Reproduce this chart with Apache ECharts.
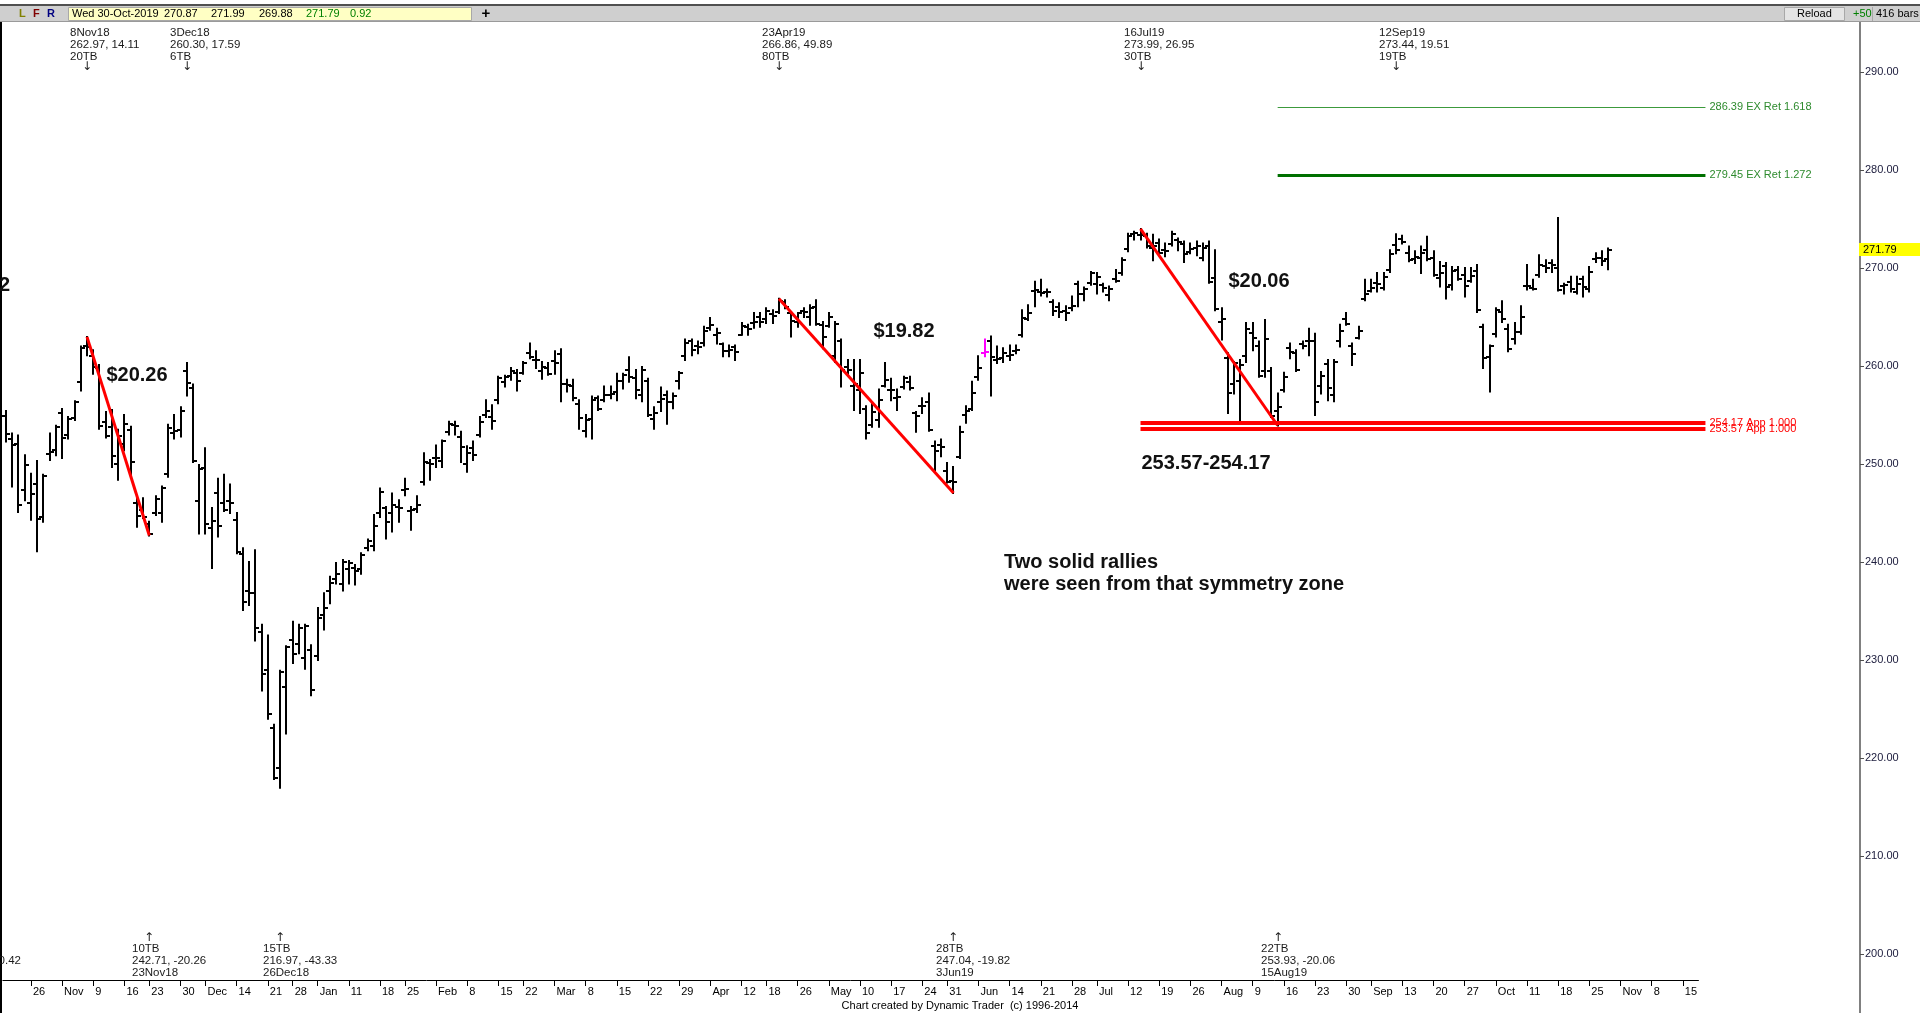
<!DOCTYPE html>
<html><head><meta charset="utf-8">
<script src="https://cdn.jsdelivr.net/npm/echarts@6/dist/echarts.min.js"></script>
<style>html,body{margin:0;padding:0;background:#fff;overflow:hidden}#c{width:1920px;height:1013px}</style>
</head><body><div id="c"></div>
<script>
// ---------- DATA ----------
const startDate = '2018-10-22';
const nCategories = 272;
const holidays = ['2018-11-22','2018-12-05','2018-12-25','2019-01-01','2019-01-21','2019-02-18','2019-04-19','2019-05-27','2019-07-04','2019-09-02','2019-11-28'];
const tickLabels = ['26','Nov','9','16','23','30','Dec','14','21','28','Jan','11','18','25','Feb','8','15','22','Mar','8','15','22','29','Apr','12','18','26','May','10','17','24','31','Jun','14','21','28','Jul','12','19','26','Aug','9','16','23','30','Sep','13','20','27','Oct','11','18','25','Nov','8','15'];
const yTickValues = [200,210,220,230,240,250,260,270,280,290];

const opens = [254.9,252.5,252.0,247.3,246.0,248.0,244.6,251.0,251.4,255.2,253.0,254.7,258.4,262.0,261.0,259.8,254.3,253.8,250.0,252.0,253.5,246.0,245.3,243.9,245.0,245.0,249.0,253.2,253.5,259.5,257.8,246.2,249.6,243.5,247.0,246.0,246.2,244.3,240.8,237.0,236.8,232.9,229.0,223.1,219.0,227.2,232.0,231.6,230.2,231.0,230.4,234.6,237.0,238.3,237.8,239.3,239.4,239.3,241.4,241.6,245.0,245.5,245.0,245.6,247.3,245.2,245.4,248.2,250.1,250.6,250.3,253.3,254.0,252.8,250.0,251.6,253.0,255.0,254.8,256.5,258.4,259.0,259.3,259.3,261.3,260.6,259.5,259.8,260.5,261.2,258.2,258.0,256.1,253.4,254.6,256.7,256.5,257.0,257.3,258.5,259.6,258.8,257.0,258.5,254.6,256.3,257.0,256.3,258.5,261.0,262.5,262.0,262.3,263.9,263.2,262.2,261.5,261.9,263.2,264.0,264.4,265.0,264.8,265.3,265.5,266.5,265.4,264.5,265.6,265.0,266.0,264.2,264.1,261.0,262.5,259.9,258.0,257.5,255.6,254.0,254.5,258.0,257.5,256.7,257.9,258.4,255.2,255.9,256.3,251.8,251.9,249.3,248.3,250.7,255.0,255.6,258.9,261.3,262.5,260.6,260.8,261.0,261.5,263.2,264.8,267.7,267.5,267.5,266.5,266.0,265.6,265.9,268.4,267.3,268.5,268.4,268.3,267.2,268.9,269.5,271.9,273.5,273.4,273.3,272.0,272.5,271.8,272.4,272.9,272.4,271.6,272.0,271.0,272.2,269.0,264.5,260.8,258.2,258.5,261.0,263.4,262.0,259.5,259.5,255.4,257.5,261.8,261.3,262.2,262.6,262.6,258.0,260.2,257.0,262.5,264.8,262.0,262.9,266.8,267.7,268.5,268.0,269.8,272.3,273.0,271.5,270.9,271.0,271.8,271.0,269.0,270.2,268.3,269.8,269.3,268.7,269.7,264.0,260.9,263.3,265.5,263.8,262.8,263.5,268.2,268.0,269.3,270.2,270.5,270.0,268.2,268.6,267.6,268.9,267.9,270.9,271.0,270.87];
const highs = [255.4,253.1,252.9,250.9,249.0,250.3,248.9,253.1,253.9,255.6,254.8,256.4,262.0,262.97,261.6,260.1,255.3,255.5,253.5,255.0,253.8,246.7,246.5,244.1,246.7,247.7,254.0,255.0,255.8,260.30,258.1,249.9,251.6,245.5,248.5,248.9,247.9,245.0,241.4,240.0,241.2,233.6,232.5,223.4,228.9,231.4,233.9,233.6,233.6,231.5,235.3,236.8,238.5,239.9,240.2,240.1,239.7,240.9,242.3,244.8,247.5,245.6,247.0,246.3,248.5,245.6,246.7,251.1,250.4,251.9,252.4,254.3,254.3,253.3,251.8,252.3,254.8,256.5,256.0,258.9,259.0,259.8,259.6,260.4,262.3,261.5,260.4,260.3,261.5,261.7,258.6,258.6,256.5,255.0,256.9,256.9,257.9,257.9,259.2,259.2,260.9,259.6,259.9,258.7,255.8,257.8,257.4,257.2,259.4,262.7,262.7,262.5,264.0,264.9,263.8,262.3,262.1,262.1,264.4,264.2,265.4,265.4,265.9,265.7,266.86,266.7,265.5,265.4,265.9,266.2,266.7,264.5,265.4,264.5,262.7,260.6,260.6,260.6,255.9,256.2,257.6,260.3,258.7,257.6,258.9,258.9,255.3,256.7,257.2,252.3,252.5,250.1,249.7,253.8,255.9,258.4,261.0,262.7,263.0,262.0,261.8,262.1,262.1,265.7,266.2,268.6,268.8,267.8,266.7,266.4,266.1,267.1,268.6,268.0,269.6,269.5,268.4,268.1,269.8,271.0,273.5,273.7,273.99,273.5,273.4,272.9,272.5,273.7,273.0,272.7,272.5,272.7,272.5,272.7,271.8,265.9,261.3,260.4,260.6,264.4,264.4,262.5,264.7,259.8,257.2,259.3,262.3,261.6,262.5,263.8,263.3,259.4,260.6,260.6,264.2,265.4,262.3,264.0,268.8,268.8,269.5,269.5,271.8,273.44,273.3,272.2,271.7,272.2,273.2,271.7,270.6,270.5,270.1,270.1,270.0,270.0,270.3,264.2,262.1,265.9,266.6,264.2,264.4,266.1,270.3,268.8,271.3,270.8,270.8,275.1,268.4,269.1,269.1,269.1,270.1,271.5,271.7,271.99];
const lows = [252.3,247.7,245.1,246.3,244.3,241.1,244.1,250.4,250.9,250.6,252.6,254.5,257.5,261.1,259.2,253.6,252.7,249.7,248.4,251.4,248.9,243.6,244.5,242.71,244.8,244.1,248.7,252.6,252.8,257.0,250.2,242.9,242.9,239.4,242.6,245.2,245.0,240.9,235.1,235.6,232.0,226.9,224.0,217.85,216.97,222.5,229.7,230.7,229.1,226.4,230.0,233.1,235.8,237.8,237.1,237.8,237.7,238.8,241.2,241.2,244.6,242.4,243.1,244.1,246.8,243.3,245.1,247.9,248.4,249.7,249.7,253.0,253.0,250.2,249.2,250.4,252.8,254.8,253.6,256.2,257.9,258.6,257.5,259.2,260.8,259.8,258.7,259.1,259.2,256.4,257.4,256.5,253.6,252.8,252.6,255.5,256.4,256.7,256.5,257.7,258.4,256.7,256.4,254.9,253.6,255.4,254.1,255.7,257.7,260.6,261.1,261.3,262.1,263.7,262.3,261.0,261.0,260.6,263.2,263.2,263.9,264.0,264.4,264.4,265.4,265.9,263.0,264.0,265.0,264.2,264.2,261.8,264.0,260.4,257.9,259.1,255.5,255.2,252.6,253.8,253.8,257.9,256.5,255.5,257.7,257.6,253.3,255.2,253.4,249.4,250.8,248.1,247.04,250.6,254.2,255.5,258.6,261.0,257.0,260.3,260.4,260.6,261.3,263.0,264.7,266.1,267.2,267.1,265.2,265.0,264.7,265.7,266.1,266.7,268.3,267.4,267.6,266.7,268.6,269.3,271.7,272.9,272.9,272.1,270.8,271.3,271.2,272.3,271.8,270.6,271.5,271.3,270.8,268.5,265.7,262.7,255.2,257.2,254.3,260.4,261.6,258.9,258.9,254.8,253.93,257.4,260.8,259.5,261.8,261.1,255.0,257.2,256.5,256.4,262.0,264.2,260.1,262.8,266.7,267.6,267.6,267.8,269.6,271.5,272.5,270.7,270.5,269.5,270.8,269.2,268.1,266.9,267.8,268.8,267.1,268.6,265.5,259.8,257.4,263.0,264.5,261.5,262.3,263.3,267.8,267.8,269.1,269.6,269.6,267.7,267.4,267.6,267.4,267.1,267.6,270.6,270.3,269.88];
const closes = [253.1,251.9,245.8,249.9,246.9,244.4,248.8,251.2,253.8,252.7,254.6,256.3,261.8,261.9,259.9,253.9,252.9,250.8,252.9,254.1,250.2,244.7,244.6,242.9,246.4,247.5,253.7,253.4,255.4,258.3,250.3,249.5,243.9,244.2,243.7,245.3,246.0,241.0,235.9,236.8,233.3,228.6,224.5,218.0,228.8,231.3,230.6,233.3,233.5,226.9,234.3,235.3,237.9,238.8,240.0,239.9,239.1,240.7,242.1,243.7,247.1,244.1,245.8,245.5,247.4,245.3,245.8,250.2,250.0,250.6,252.3,254.1,253.9,251.7,251.1,250.9,254.3,255.4,254.4,258.8,258.9,259.5,258.5,260.3,260.9,260.6,259.9,259.2,260.3,258.2,258.1,256.7,254.7,254.5,256.5,255.6,257.0,257.1,258.5,259.1,258.9,257.5,259.6,255.0,255.2,256.6,256.3,256.9,259.3,262.3,261.6,261.9,263.6,264.2,263.4,261.5,261.6,261.4,264.1,263.8,264.5,264.5,265.6,265.1,266.6,266.0,264.6,265.4,265.5,265.9,264.3,263.0,265.0,264.3,259.6,259.6,258.2,259.3,253.2,255.3,256.5,258.6,257.6,256.8,258.8,257.8,254.9,255.9,253.5,251.3,251.7,248.2,248.2,253.3,255.4,257.2,259.8,261.4,260.9,260.7,261.3,261.1,261.6,264.9,265.4,267.8,267.4,267.5,265.6,265.5,265.4,266.1,267.3,267.9,269.5,269.1,268.0,267.9,268.7,270.8,273.3,273.6,273.4,272.2,272.2,271.5,271.7,273.5,272.7,271.4,271.9,272.2,272.0,268.6,265.8,264.8,257.2,260.3,260.1,263.8,262.9,259.0,262.8,254.9,255.8,258.9,261.4,259.6,262.0,262.5,256.3,259.0,257.8,260.4,263.6,264.3,261.2,263.6,267.3,268.0,268.4,269.1,271.4,271.8,272.7,270.8,271.1,271.5,270.9,269.3,269.5,268.1,269.7,268.9,268.2,269.2,265.7,260.8,262.0,265.7,264.8,261.7,263.5,265.0,268.2,267.9,270.3,270.0,270.3,267.8,268.3,267.9,268.4,268.1,269.6,271.0,270.7,271.79];
const highlightedBars = [157];

// swing lines: [startIndex, startPrice, endIndex, endPrice]
const swingLines = [[13,262.97,23,242.71],[124,266.86,152,247.04],[182,273.99,204,253.93]];

// projection levels
const levelStart = [204,204,182,182];
const levelPrice = [286.39,279.45,254.17,253.57];
const levelText = ['286.39 EX Ret 1.618','279.45 EX Ret 1.272','254.17 App 1.000','253.57 App 1.000'];

// swing annotations
const annTopIndex = [13,29,124,182,223];
const annTopText = [['8Nov18','262.97, 14.11','20TB'],['3Dec18','260.30, 17.59','6TB'],['23Apr19','266.86, 49.89','80TB'],['16Jul19','273.99, 26.95','30TB'],['12Sep19','273.44, 19.51','19TB']];
const annBotIndex = [23,44,152,204];
const annBotText = [['10TB','242.71, -20.26','23Nov18'],['15TB','216.97, -43.33','26Dec18'],['28TB','247.04, -19.82','3Jun19'],['22TB','253.93, -20.06','15Aug19']];

const lastBar = {date:'Wed 30-Oct-2019', o:'270.87', h:'271.99', l:'269.88', c:'271.79', chg:'0.92'};

// ---------- BUILD ----------
function buildDates(){
  const out=[]; let t=Date.parse(startDate+'T00:00:00Z');
  while(out.length<nCategories){
    const d=new Date(t); const dow=d.getUTCDay(); const s=d.toISOString().slice(0,10);
    if(dow!==0&&dow!==6&&holidays.indexOf(s)<0) out.push(s);
    t+=86400000;
  }
  return out;
}
const dates = buildDates();
const weekEndLabel = {};
(function(){
  let k=0;
  for(let i=0;i<dates.length-1;i++){
    const a=new Date(dates[i]+'T00:00:00Z').getUTCDay();
    const b=new Date(dates[i+1]+'T00:00:00Z').getUTCDay();
    if(b<a && k<tickLabels.length){ weekEndLabel[i]=tickLabels[k++]; }
  }
})();
const isWeekEnd = (i)=> weekEndLabel.hasOwnProperty(i);

const ohlc = opens.map((o,i)=>[i,o,highs[i],lows[i],closes[i]]);

const FONT = '"Liberation Sans", Arial, sans-serif';
const Y_AXIS_X = 1860;

const GRID_LEFT = 2.84, GRID_W = 1695.6, GRID_TOP = 22, GRID_H = 958;
const Y_MIN = 290 - (GRID_TOP+GRID_H-72)/9.8;
const Y_MAX = 290 + (72-GRID_TOP)/9.8;

function renderBar(params, api){
  const i=api.value(0);
  const x=Math.round(api.coord([i,250])[0]);
  const yH=api.coord([i,api.value(2)])[1], yL=api.coord([i,api.value(3)])[1];
  const yO=Math.round(api.coord([i,api.value(1)])[1]), yC=Math.round(api.coord([i,api.value(4)])[1]);
  const col = highlightedBars.indexOf(i)>=0 ? '#ff00ff' : '#000000';
  return {type:'group', children:[
    {type:'line', shape:{x1:x,y1:yH-1,x2:x,y2:yL+1}, style:{stroke:col,lineWidth:2}},
    {type:'line', shape:{x1:x-4,y1:yO,x2:x,y2:yO}, style:{stroke:col,lineWidth:2}},
    {type:'line', shape:{x1:x,y1:yC,x2:x+4,y2:yC}, style:{stroke:col,lineWidth:2}}
  ]};
}

const levelStyle = [
  {stroke:'#3c9a3c', w:1, text:'#2e8b2e'},
  {stroke:'#007000', w:3, text:'#2e8b2e'},
  {stroke:'#ff0000', w:4, text:'#ff0000'},
  {stroke:'#ff0000', w:4, text:'#ff0000'}
];
function renderLevel(params, api){
  const k=params.dataIndex; const st=levelStyle[k];
  const p=api.coord([api.value(0),api.value(1)]);
  const cs=params.coordSys; const xEnd=cs.x+cs.width+7;
  let y=Math.round(p[1]); if(st.w%2===1) y+=0.5;
  return {type:'group', children:[
    {type:'line', shape:{x1:p[0],y1:y,x2:xEnd,y2:y}, style:{stroke:st.stroke,lineWidth:st.w}},
    {type:'text', style:{text:levelText[k], x:xEnd+4, y:p[1], fill:st.text, font:'11px '+FONT, align:'left', verticalAlign:'middle'}}
  ]};
}

function renderAnn(rows, arrowY, arrow, texts){
  return function(params, api){
    const x=Math.round(api.coord([api.value(0),250])[0]);
    const lines=texts[params.dataIndex];
    const ch=lines.map((t,k)=>({type:'text', style:{text:t, x:x-17, y:rows[k], fill:'#1a1a1a', font:'11.5px '+FONT, align:'left', verticalAlign:'middle'}}));
    ch.push({type:'text', style:{text:arrow, x:x, y:arrowY, fill:'#1a1a1a', font:'12px "DejaVu Sans"', align:'center', verticalAlign:'middle'}});
    return {type:'group', children:ch};
  };
}

function renderLast(params, api){
  const y=api.coord([api.value(0),api.value(1)])[1];
  return {type:'group', children:[
    {type:'rect', shape:{x:Y_AXIS_X-1,y:Math.round(y)-7,width:62,height:13}, style:{fill:'#ffff00'}},
    {type:'text', style:{text:lastBar.c, x:Y_AXIS_X+3, y:y, fill:'#000', font:'11px '+FONT, align:'left', verticalAlign:'middle'}}
  ]};
}

const swingSeries = swingLines.map(s=>({
  type:'line', data:[[s[0],s[1]],[s[2],s[3]]], symbol:'none', silent:true, z:6,
  lineStyle:{color:'#ff0000', width:3}
}));

const txt = (text,x,y,opt)=>Object.assign({type:'text', silent:true, style:Object.assign({text, x, y, fill:'#000', font:'11px '+FONT, align:'left', verticalAlign:'middle'}, opt||{})});

const graphics = [
  {type:'rect', shape:{x:0,y:0,width:1920,height:4}, style:{fill:'#ffffff'}, silent:true},
  txt('DIA', 955, -4, {font:'bold 15px '+FONT, align:'center'}),
  {type:'rect', shape:{x:0,y:4,width:1920,height:2}, style:{fill:'#505050'}, silent:true},
  {type:'rect', shape:{x:0,y:6,width:1920,height:16}, style:{fill:'#cfcfcf'}, silent:true},
  {type:'rect', shape:{x:0,y:21,width:1920,height:1}, style:{fill:'#9a9a9a'}, silent:true},
  txt('L', 19, 14, {fill:'#808000', font:'bold 11px '+FONT}),
  txt('F', 33, 14, {fill:'#800000', font:'bold 11px '+FONT}),
  txt('R', 47, 14, {fill:'#000080', font:'bold 11px '+FONT}),
  {type:'rect', shape:{x:68.5,y:7.5,width:403,height:13}, style:{fill:'#ffffc4', stroke:'#a8a8a8', lineWidth:1}, silent:true},
  txt(lastBar.date, 72, 14),
  txt(lastBar.o, 164, 14),
  txt(lastBar.h, 211, 14),
  txt(lastBar.l, 259, 14),
  txt(lastBar.c, 306, 14, {fill:'#008000'}),
  txt(lastBar.chg, 350, 14, {fill:'#008000'}),
  txt('+', 486, 14, {font:'bold 15px '+FONT, align:'center'}),
  {type:'rect', shape:{x:1784.5,y:7.5,width:60,height:13}, style:{fill:'#e4e4e4', stroke:'#a8a8a8', lineWidth:1}, silent:true},
  txt('Reload', 1797, 14),
  txt('+50', 1853, 14, {fill:'#008000'}),
  {type:'rect', shape:{x:1872,y:7,width:1,height:14}, style:{fill:'#a8a8a8'}, silent:true},
  txt('416 bars', 1876, 14),
  {type:'rect', shape:{x:0,y:22,width:2,height:991}, style:{fill:'#000'}, silent:true},
  {type:'rect', shape:{x:Y_AXIS_X-1,y:22,width:2,height:991}, style:{fill:'#808080'}, silent:true},
  txt('$20.26', 137, 375, {font:'bold 20px '+FONT, align:'center', fill:'#111'}),
  txt('$19.82', 904, 331, {font:'bold 20px '+FONT, align:'center', fill:'#111'}),
  txt('$20.06', 1259, 281, {font:'bold 20px '+FONT, align:'center', fill:'#111'}),
  txt('253.57-254.17', 1206, 463, {font:'bold 20px '+FONT, align:'center', fill:'#111'}),
  txt('Two solid rallies', 1004, 562, {font:'bold 20px '+FONT, fill:'#111'}),
  txt('were seen from that symmetry zone', 1004, 584, {font:'bold 20px '+FONT, fill:'#111'}),
  txt('2', 10, 285, {font:'bold 20px '+FONT, align:'right', fill:'#111'}),
  txt('0.42', 21, 961, {font:'11.5px '+FONT, align:'right', fill:'#1a1a1a'}),
  txt('Chart created by Dynamic Trader  (c) 1996-2014', 960, 1006, {align:'center'})
];

const option = {
  animation:false,
  backgroundColor:'#ffffff',
  grid:{left:GRID_LEFT, top:GRID_TOP, width:GRID_W, height:GRID_H, containLabel:false},
  xAxis:{
    type:'category', data:dates, boundaryGap:true,
    axisLine:{show:true, lineStyle:{color:'#000', width:1}},
    axisTick:{show:true, alignWithLabel:true, length:6, interval:(i)=>isWeekEnd(i), lineStyle:{color:'#000'}},
    axisLabel:{show:true, interval:(i)=>isWeekEnd(i), formatter:(v,i)=>weekEndLabel[i]||'', align:'left', padding:[0,0,0,2], margin:6, color:'#000', fontSize:11, fontFamily:FONT},
    splitLine:{show:false}
  },
  yAxis:{
    type:'value', position:'right', offset: Y_AXIS_X-(GRID_LEFT+GRID_W), min:Y_MIN, max:Y_MAX, scale:true,
    axisLine:{show:false},
    axisTick:{show:true, length:4, inside:false, customValues:yTickValues, lineStyle:{color:'#505050'}},
    axisLabel:{show:true, customValues:yTickValues, margin:5, formatter:(v)=>v.toFixed(2), color:'#202040', fontSize:11, fontFamily:FONT},
    splitLine:{show:false}
  },
  graphic:graphics,
  series:[
    {type:'custom', name:'bars', data:ohlc, renderItem:renderBar, encode:{x:0,y:[1,2,3,4]}, clip:false, silent:true, z:3},
    ...swingSeries,
    {type:'custom', name:'levels', data:levelStart.map((s,k)=>[s,levelPrice[k]]), renderItem:renderLevel, encode:{x:0,y:1}, clip:false, silent:true, z:5},
    {type:'custom', name:'annTop', data:annTopIndex.map(i=>[i,250]), renderItem:renderAnn([33,45,57],67,'↓',annTopText), encode:{x:0,y:1}, clip:false, silent:true, z:4},
    {type:'custom', name:'annBot', data:annBotIndex.map(i=>[i,250]), renderItem:renderAnn([949,961,973],938,'↑',annBotText), encode:{x:0,y:1}, clip:false, silent:true, z:4},
    {type:'custom', name:'last', data:[[opens.length-1, closes[closes.length-1]]], renderItem:renderLast, encode:{x:0,y:1}, clip:false, silent:true, z:7}
  ]
};
const chart = echarts.init(document.getElementById('c'), null, {renderer:'canvas', width:1920, height:1013});
chart.setOption(option);
</script>
</body></html>
